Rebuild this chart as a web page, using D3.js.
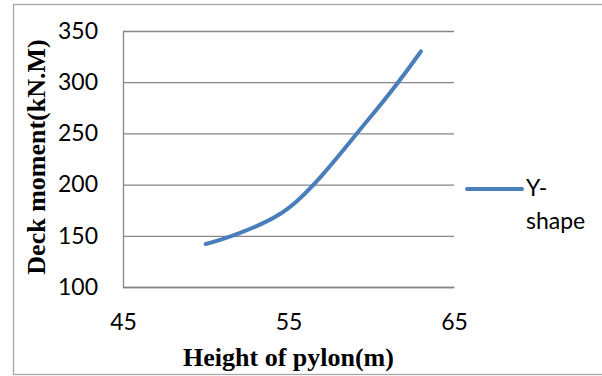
<!DOCTYPE html>
<html>
<head>
<meta charset="utf-8">
<script src="https://cdn.jsdelivr.net/npm/d3@7"></script>
<style>
	body { margin: 0; background: #fff; }
	svg { display: block; }
</style>
</head>
<body>
<div id="chart-area"></div>
<script>
// Data
const heights = [50, 55, 60, 63];
const moments = [142, 177, 267, 330];
const xTicks = [45, 55, 65];
const yTicks = [100, 150, 200, 250, 300, 350];
const seriesName = ["Y-", "shape"];

const deckChart = () => {
	let margin = {left: 123, right: 148, top: 31, bottom: 89};
	let width = 602 - margin.left - margin.right;
	let height = 376 - margin.top - margin.bottom;

	let root = d3.select("#chart-area")
		.append("svg")
			.attr("width", 602)
			.attr("height", 376);

	// Outer frame
	root.append("rect")
		.attr("x", 13.5)
		.attr("y", 4.5)
		.attr("width", 600)
		.attr("height", 370)
		.attr("fill", "none")
		.attr("stroke", "#a6a6a6")
		.attr("stroke-width", 1.3);

	let svg = root.append("g")
		.attr("transform", "translate(" + margin.left + "," + margin.top + ")");

	// X scale
	let x = d3.scaleLinear()
		.domain([45, 65])
		.range([0, width]);

	// Y scale
	let y = d3.scaleLinear()
		.domain([100, 350])
		.range([height, 0]);

	// Gridlines
	svg.append("g")
		.attr("class", "grid")
		.call(d3.axisLeft(y).tickValues(yTicks).tickSize(-width).tickFormat(""))
		.call((g) => g.select(".domain").remove())
		.selectAll("line")
			.attr("stroke", "#868686")
			.attr("stroke-width", 1.3);

	// Y axis line + labels
	let yAxis = d3.axisLeft(y)
		.tickValues(yTicks)
		.tickSize(0)
		.tickPadding(25);
	svg.append("g")
		.attr("class", "left-axis")
		.call(yAxis)
		.call((g) => g.select(".domain").attr("stroke", "#868686").attr("stroke-width", 1.3))
		.selectAll("text")
			.attr("font-family", "Lato, 'Open Sans', sans-serif")
			.attr("font-size", "23px")
			.attr("fill", "#000");

	// X axis labels
	let xAxis = d3.axisBottom(x)
		.tickValues(xTicks)
		.tickSize(0)
		.tickPadding(27);
	svg.append("g")
		.attr("class", "bot-axis")
		.attr("transform", "translate(0," + height + ")")
		.call(xAxis)
		.call((g) => g.select(".domain").attr("stroke", "#868686").attr("stroke-width", 1.3))
		.selectAll("text")
			.attr("font-family", "Lato, 'Open Sans', sans-serif")
			.attr("font-size", "23px")
			.attr("fill", "#000");

	// X Label
	svg.append("text")
		.attr("x", width / 2)
		.attr("y", height + 79)
		.attr("font-family", "'Liberation Serif', 'Times New Roman', serif")
		.attr("font-weight", "bold")
		.attr("font-size", "26px")
		.attr("text-anchor", "middle")
		.text("Height of pylon(m)");

	// Y Label
	svg.append("text")
		.attr("transform", "rotate(-90)")
		.attr("x", -(157 - margin.top))
		.attr("y", 45 - margin.left)
		.attr("font-family", "'Liberation Serif', 'Times New Roman', serif")
		.attr("font-weight", "bold")
		.attr("font-size", "26px")
		.attr("text-anchor", "middle")
		.text("Deck moment(kN.M)");

	// Smoothed series line
	let points = heights.map((h, i) => [h, moments[i]]);
	let line = d3.line()
		.x((d) => x(d[0]))
		.y((d) => y(d[1]))
		.curve(d3.curveCardinal);
	svg.append("path")
		.datum(points)
		.attr("d", line)
		.attr("fill", "none")
		.attr("stroke", "#4a7ebb")
		.attr("stroke-width", 4)
		.attr("stroke-linecap", "round");

	// Legend
	let legend = svg.append("g")
		.attr("transform", "translate(" + (width + 13) + "," + (189 - margin.top) + ")");
	legend.append("line")
		.attr("x1", 0)
		.attr("x2", 55)
		.attr("stroke", "#4a7ebb")
		.attr("stroke-width", 4)
		.attr("stroke-linecap", "round");
	legend.selectAll("text.entry")
		.data(seriesName)
		.enter()
		.append("text")
			.attr("class", "entry")
			.attr("x", 59)
			.attr("y", (d, i) => 7 + i * 33)
			.attr("font-family", "Lato, 'Open Sans', sans-serif")
			.attr("font-size", "23px")
			.text((d) => d);
};

deckChart();
</script>
</body>
</html>
